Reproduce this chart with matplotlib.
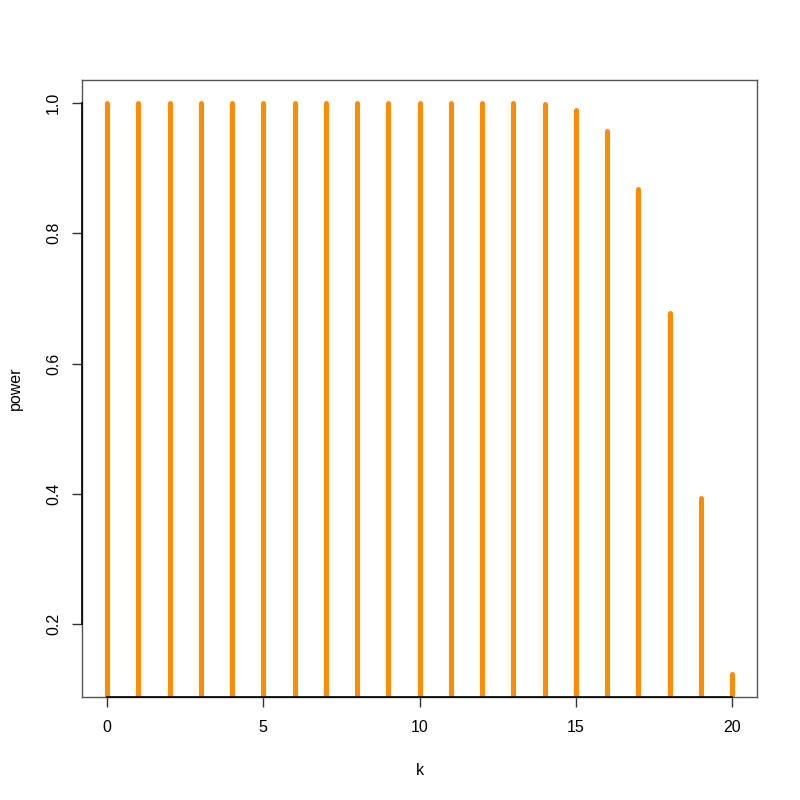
import numpy as np
import matplotlib
matplotlib.use("Agg")
import matplotlib.pyplot as plt

plt.rcParams["font.family"] = ["Liberation Sans", "DejaVu Sans"]

# ── data ───────────────────────────────────────────────────────────────────
k = list(range(21))
power = [1.0, 1.0, 1.0, 1.0, 1.0, 1.0, 1.0, 1.0, 1.0, 1.0, 1.0,
         1.0, 1.0, 1.0, 0.998, 0.989, 0.957, 0.868, 0.678, 0.394, 0.124]
xticks = [0, 5, 10, 15, 20]
yticks = [0.2, 0.4, 0.6, 0.8, 1.0]

# ── figure ─────────────────────────────────────────────────────────────────
fig = plt.figure(figsize=(8, 8), dpi=100)
ax = fig.add_axes([0.1025, 0.129, 0.8438, 0.771])

ax.vlines(k, 0, power, color="#FF8C00", lw=3.6, capstyle="round", zorder=2)

# R-style 4% padding around data range
xr = max(k) - min(k)
ax.set_xlim(min(k) - 0.04 * xr, max(k) + 0.04 * xr)
yr = max(power) - min(power)
ax.set_ylim(min(power) - 0.04 * yr, max(power) + 0.04 * yr)

for s in ax.spines.values():
    s.set_color("#555555")
    s.set_linewidth(1.0)

# axis lines spanning first to last tick, as R draws them
ybot = ax.get_ylim()[0]
xleft = ax.get_xlim()[0]
ax.plot([xticks[0], xticks[-1]], [ybot, ybot], color="black", lw=1.2,
        clip_on=False, zorder=3)
ax.plot([xleft, xleft], [yticks[0], yticks[-1]], color="black", lw=1.2,
        clip_on=False, zorder=3)

ax.set_xticks(xticks)
ax.set_yticks(yticks)
ax.set_yticklabels([f"{v:.1f}" for v in yticks], rotation=90, va="center")
ax.tick_params(axis="x", direction="out", length=7, width=1.0,
               labelsize=11.5, color="#333333", pad=10)
ax.tick_params(axis="y", direction="out", length=7, width=1.0,
               labelsize=11.5, color="#333333", pad=8)

ax.set_xlabel("k", fontsize=11.5, labelpad=20)
ax.set_ylabel("power", fontsize=11.5, labelpad=17)

fig.savefig("out.png", dpi=100)
plt.close()
